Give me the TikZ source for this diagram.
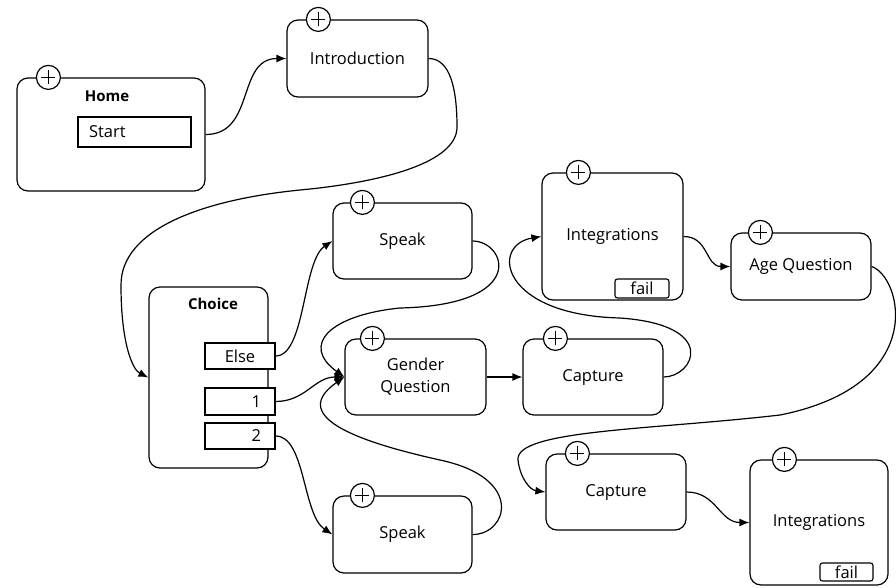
\documentclass[tikz,border=0pt]{standalone}
\usepackage{fontspec}
\setmainfont{Open Sans}
\usetikzlibrary{arrows.meta}
\begin{document}
\begin{tikzpicture}[x=1pt,y=-1pt,
  font=\fontsize{16.5}{22}\selectfont,
  box/.style={draw, rounded corners=11pt, line width=1.2pt, inner sep=0pt, align=center},
  plusc/.style={circle, draw, fill=white, line width=1.2pt, minimum size=24pt, inner sep=0pt,
    path picture={\draw[line width=1.5pt] ([xshift=-7pt]path picture bounding box.center) -- ([xshift=7pt]path picture bounding box.center);
                  \draw[line width=1.5pt] ([yshift=-7pt]path picture bounding box.center) -- ([yshift=7pt]path picture bounding box.center);}},
  port/.style={draw, line width=1.1pt, inner sep=0pt, fill=white},
  ttl/.style={font=\fontsize{15}{18}\selectfont\bfseries},
  arr/.style={draw, line width=1.2pt, -{Latex[length=10pt,width=8pt]}}
]
\fill[white] (0,0) rectangle (896,587);
\useasboundingbox (0,0) rectangle (896,587);

% boxes
\node[box, minimum width=188pt, minimum height=113pt] (home) at (111,134.5) {};
\node[ttl] (homet) at (107,96) {Home};
\node[port, minimum width=113pt, minimum height=30pt, text width=91pt, align=left] (start) at (134.5,132) {Start};

\node[box, minimum width=141pt, minimum height=77pt] (intro) at (357.5,58.5) {Introduction};

\node[box, minimum width=119pt, minimum height=181pt] (choice) at (208.5,377.5) {};
\node[ttl] (choicet) at (213,304) {Choice};
\node[port, minimum width=70pt, minimum height=26pt] (else) at (240,356) {Else};
\node[port, minimum width=70pt, minimum height=27pt, text width=42pt, align=right] (one) at (240,401.5) {1};
\node[port, minimum width=70pt, minimum height=26pt, text width=42pt, align=right] (two) at (240,436) {2};

\node[box, minimum width=139pt, minimum height=76pt] (speaka) at (402.5,241) {Speak};
\node[box, minimum width=141pt, minimum height=76pt] (gender) at (415.5,377) {Gender\\Question};
\node[box, minimum width=139pt, minimum height=77pt] (speakb) at (402.5,534.5) {Speak};
\node[box, minimum width=140pt, minimum height=76pt] (capa) at (593,377) {Capture};
\node[box, minimum width=141pt, minimum height=127pt] (intega) at (612.5,236.5) {Integrations};
\node[port, rounded corners=2.5pt, minimum width=54pt, minimum height=19pt] (faila) at (642,288.5) {fail};
\node[box, minimum width=140pt, minimum height=67pt] (age) at (801,266.5) {Age Question};
\node[box, minimum width=140pt, minimum height=76pt] (capb) at (616,492) {Capture};
\node[box, minimum width=138pt, minimum height=125pt] (integb) at (819,522.5) {Integrations};
\node[port, rounded corners=2.5pt, minimum width=53pt, minimum height=18pt] (failb) at (846.5,572) {fail};

% plus circles
\node[plusc] (homep) at ([xshift=32pt]home.north west) {};
\node[plusc] (introp) at ([xshift=32pt]intro.north west) {};
\node[plusc] (speakap) at ([xshift=30pt]speaka.north west) {};
\node[plusc] (genderp) at ([xshift=28pt]gender.north west) {};
\node[plusc] (speakbp) at ([xshift=30pt]speakb.north west) {};
\node[plusc] (capap) at ([xshift=33pt]capa.north west) {};
\node[plusc] (integap) at ([xshift=37pt]intega.north west) {};
\node[plusc] (agep) at ([xshift=30pt]age.north west) {};
\node[plusc] (capbp) at ([xshift=32pt]capb.north west) {};
\node[plusc] (integbp) at ([xshift=35pt]integb.north west) {};

% connectors
\draw[arr] (home.east) .. controls +(50,0) and +(-50,0) .. (intro.west);
\draw[arr] (intro.east) .. controls +(22,0) and (457,90) .. (457,127)
   .. controls (457,162) and (385,182) .. (300,190)
   .. controls (200,200) and (121,230) .. (121,285)
   .. controls (121,345) and (133,370) .. (choice.west);
\draw[arr] (else.east) .. controls +(30,0) and +(-30,20) .. (speaka.west);
\draw[arr] (one.east) .. controls +(30,0) and +(-30,0) .. (gender.west);
\draw[arr] (two.east) .. controls +(30,0) and +(-30,-20) .. (speakb.west);
\draw[arr] (speaka.east) .. controls +(33,0) and (530,305) .. (400,308)
   .. controls (330,315) and (300,345) .. (gender.west);
\draw[arr] (speakb.east) .. controls +(35,0) and (525,478) .. (440,460)
   .. controls (350,440) and (290,415) .. (gender.west);
\draw[arr] (gender.east) -- (capa.west);
\draw[arr] (capa.east) .. controls +(30,0) and (720,325) .. (620,318)
   .. controls (500,315) and (490,245) .. (intega.west);
\draw[arr] (intega.east) .. controls +(25,0) and +(-25,0) .. (age.west);
\draw[arr] (age.east) .. controls +(30,10) and (930,385) .. (780,415)
   .. controls (650,430) and (515,430) .. (518,460)
   .. controls (520,478) and (530,490) .. (capb.west);
\draw[arr] (capb.east) .. controls +(30,0) and +(-30,0) .. (integb.west);
\end{tikzpicture}
\end{document}
